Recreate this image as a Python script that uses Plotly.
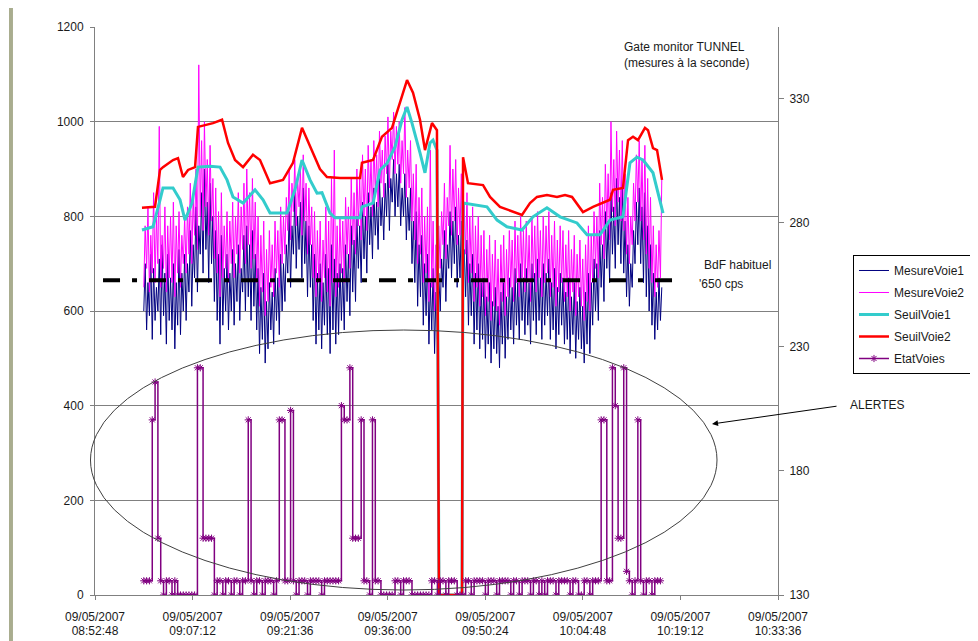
import plotly.graph_objects as go
import pandas as pd

DAY = "2007-05-09 "

# ---- x axis ticks ----
tick_times = ["08:52:48", "09:07:12", "09:21:36", "09:36:00", "09:50:24", "10:04:48", "10:19:12", "10:33:36"]
tick_date = "09/05/2007"

# ---- measurements: low / high reading for every 25 s window from 09:00:00 ----
mesure_start = "09:00:00"
mesure_step_s = 25
voie1_low = [
    600, 560, 590, 540, 580, 600, 550, 590, 530, 580,
    560, 520, 570, 550, 600, 580, 640, 610, 670, 640,
    720, 680, 730, 660, 700, 620, 580, 530, 570, 600,
    560, 600, 570, 620, 580, 640, 600, 630, 580, 610,
    560, 510, 540, 490, 520, 560, 530, 580, 550, 600,
    620, 680, 650, 720, 690, 730, 670, 700, 630, 650,
    580, 530, 560, 520, 570, 550, 510, 560, 530, 550,
    580, 560, 620, 590, 640, 620, 690, 660, 710, 680,
    740, 710, 760, 730, 780, 750, 800, 770, 830, 800,
    820, 780, 800, 750, 770, 700, 660, 610, 630, 570,
    590, 530, 560, 510, 540, 600, 650, 620, 690, 670,
    700, 650, 670, 610, 630, 570, 590, 530, 560, 520,
    540, 500, 530, 490, 520, 510, 480, 530, 500, 540,
    560, 530, 570, 540, 580, 550, 570, 530, 580, 550,
    580, 540, 570, 590, 540, 560, 520, 550, 570, 530,
    540, 510, 550, 500, 540, 520, 490, 530, 510, 570,
    600, 580, 650, 620, 690, 660, 720, 690, 740, 700,
    680, 630, 610, 650, 700, 740, 700, 660, 630, 600,
    570, 540, 560, 580,
]
voie1_high = [
    700, 660, 720, 690, 650, 710, 740, 680, 720, 670,
    700, 660, 730, 680, 720, 700, 770, 740, 820, 780,
    850, 900, 830, 870, 800, 770, 720, 760, 690, 720,
    680, 730, 700, 740, 690, 760, 780, 740, 770, 720,
    690, 650, 680, 620, 660, 640, 690, 670, 720, 700,
    740, 810, 780, 850, 800, 830, 860, 790, 780, 740,
    720, 680, 700, 660, 720, 690, 740, 710, 680, 700,
    690, 740, 720, 780, 750, 800, 780, 830, 800, 850,
    820, 860, 830, 880, 840, 870, 910, 880, 920, 890,
    910, 860, 890, 840, 860, 790, 810, 740, 760, 700,
    720, 660, 690, 640, 680, 710, 770, 740, 810, 790,
    820, 760, 790, 730, 750, 700, 720, 680, 700, 660,
    670, 630, 660, 620, 650, 610, 640, 660, 630, 670,
    650, 690, 660, 700, 670, 690, 660, 700, 680, 710,
    670, 700, 680, 710, 660, 690, 650, 680, 670, 640,
    670, 630, 660, 620, 650, 610, 640, 680, 660, 710,
    700, 770, 740, 810, 790, 850, 820, 880, 840, 860,
    790, 740, 700, 770, 830, 860, 820, 850, 780, 740,
    680, 640, 670, 650,
]
voie2_low = [
    650, 690, 640, 680, 660, 700, 650, 690, 640, 670,
    660, 630, 680, 650, 700, 680, 720, 700, 760, 730,
    800, 770, 820, 760, 790, 710, 680, 630, 670, 690,
    660, 700, 670, 720, 680, 730, 700, 740, 690, 710,
    660, 610, 640, 590, 620, 650, 630, 680, 650, 700,
    720, 770, 750, 810, 780, 820, 760, 790, 720, 740,
    670, 630, 660, 620, 670, 640, 610, 660, 630, 650,
    680, 660, 720, 690, 740, 720, 780, 750, 800, 770,
    830, 800, 850, 820, 870, 840, 890, 860, 920, 890,
    910, 870, 890, 840, 860, 790, 750, 700, 720, 660,
    680, 620, 650, 600, 640, 690, 740, 710, 780, 760,
    790, 740, 760, 700, 720, 660, 680, 620, 650, 610,
    630, 590, 620, 580, 610, 600, 570, 620, 590, 630,
    650, 620, 660, 630, 670, 640, 660, 620, 670, 640,
    670, 630, 660, 680, 630, 650, 610, 640, 660, 620,
    630, 600, 640, 590, 630, 610, 580, 620, 600, 660,
    690, 670, 740, 710, 780, 750, 810, 780, 830, 790,
    770, 720, 700, 740, 790, 830, 790, 750, 720, 690,
    660, 630, 650, 670,
]
voie2_high = [
    780, 820, 760, 850, 800, 990, 760, 820, 780, 800,
    830, 780, 810, 760, 800, 820, 870, 840, 900, 1120,
    960, 1000, 920, 950, 880, 860, 810, 850, 780, 810,
    790, 830, 800, 850, 820, 870, 900, 850, 880, 830,
    800, 760, 790, 730, 770, 740, 790, 770, 820, 800,
    840, 900, 870, 920, 880, 900, 930, 870, 860, 820,
    810, 770, 790, 750, 820, 790, 880, 940, 780, 800,
    790, 840, 820, 880, 850, 900, 880, 930, 900, 950,
    920, 960, 930, 980, 940, 970, 1010, 980, 1020, 990,
    1000, 960, 1030, 940, 960, 890, 910, 840, 860, 800,
    820, 940, 790, 740, 780, 810, 870, 840, 950, 900,
    920, 860, 890, 830, 850, 800, 820, 780, 800, 760,
    770, 730, 760, 720, 750, 710, 740, 760, 730, 770,
    750, 790, 760, 800, 770, 790, 760, 800, 780, 810,
    770, 800, 780, 810, 760, 790, 750, 780, 770, 740,
    770, 730, 760, 720, 750, 710, 740, 780, 760, 810,
    800, 870, 840, 910, 890, 1000, 920, 980, 940, 960,
    890, 840, 800, 870, 930, 960, 920, 950, 880, 840,
    780, 740, 770, 880,
]
etat_voies = [
    30, 30, 30, 370, 450, 120, 30, 0, 30, 30,
    0, 30, 0, 0, 0, 0, 0, 0, 0, 480,
    480, 120, 120, 120, 120, 0, 30, 30, 0, 30,
    30, 0, 30, 30, 0, 30, 30, 370, 30, 0,
    30, 30, 0, 30, 30, 30, 0, 30, 370, 370,
    30, 30, 390, 30, 0, 30, 30, 30, 0, 30,
    30, 30, 30, 0, 30, 30, 30, 30, 30, 30,
    400, 370, 370, 480, 120, 120, 120, 370, 30, 30,
    0, 370, 30, 30, 0, 0, 0, 0, 0, 30,
    30, 0, 30, 30, 30, 0, 0, 0, 0, 0,
    0, 0, 30, 30, 0, 30, 30, 0, 30, 30,
    30, 0, 0, 0, 30, 30, 0, 30, 30, 30,
    30, 0, 30, 30, 30, 0, 30, 30, 30, 30,
    0, 30, 30, 0, 30, 30, 30, 0, 30, 30,
    0, 30, 0, 30, 30, 30, 0, 30, 30, 30,
    30, 0, 30, 30, 0, 0, 30, 30, 0, 30,
    30, 30, 370, 370, 30, 30, 480, 400, 120, 120,
    480, 50, 30, 0, 30, 370, 30, 0, 30, 30,
    0, 30, 30, 30,
]

# ---- thresholds (read at breakpoints) ----
seuil1_t = ["08:59:44", "09:01:22", "09:02:24", "09:02:50", "09:04:19", "09:05:21", "09:06:05", "09:07:07",
            "09:08:00", "09:09:46", "09:11:15", "09:12:17", "09:13:10", "09:14:39", "09:16:25", "09:17:36",
            "09:18:38", "09:21:08", "09:22:19", "09:23:21", "09:24:32", "09:25:34", "09:26:18", "09:27:29",
            "09:28:13", "09:31:55", "09:32:12", "09:33:50", "09:34:52", "09:35:54", "09:37:05", "09:38:07",
            "09:38:51", "09:39:35", "09:40:46", "09:41:30", "09:42:14", "09:42:41", "09:43:16", "09:43:34",
            "09:46:58", "09:47:07", "09:50:39", "09:52:08", "09:53:36", "09:55:49", "09:57:26", "09:59:30",
            "10:01:26", "10:03:56", "10:05:25", "10:07:20", "10:08:48", "10:10:43", "10:11:45", "10:12:47",
            "10:13:41", "10:15:09", "10:16:38"]
seuil1_v = [771, 778, 835, 860, 860, 835, 792, 828,
            904, 906, 904, 877, 841, 828, 856, 835,
            807, 807, 856, 919, 877, 849, 850, 807,
            797, 797, 820, 828, 898, 912, 947, 1004,
            1031, 997, 934, 892, 955, 961, 940, 0,
            0, 828, 820, 792, 778, 771, 799, 818,
            799, 786, 761, 761, 792, 799, 913, 925,
            919, 892, 807]

seuil2_t = ["08:59:44", "09:01:39", "09:02:24", "09:02:50", "09:04:19", "09:05:03", "09:05:47", "09:06:32",
            "09:07:34", "09:08:00", "09:10:13", "09:11:33", "09:12:26", "09:13:28", "09:14:39", "09:16:07",
            "09:17:09", "09:18:11", "09:18:38", "09:20:33", "09:22:01", "09:23:21", "09:24:32", "09:26:00",
            "09:27:02", "09:28:58", "09:31:55", "09:32:12", "09:33:50", "09:35:09", "09:36:38", "09:37:49",
            "09:38:51", "09:39:44", "09:40:46", "09:41:30", "09:42:32", "09:43:16", "09:43:34", "09:46:58",
            "09:47:07", "09:47:51", "09:50:04", "09:51:06", "09:52:34", "09:55:49", "09:57:00", "09:58:02",
            "09:59:30", "10:00:59", "10:02:10", "10:03:12", "10:04:49", "10:06:18", "10:07:46", "10:08:48",
            "10:09:15", "10:10:43", "10:11:28", "10:12:12", "10:12:56", "10:13:58", "10:14:25", "10:15:09",
            "10:15:45", "10:16:29"]
seuil2_v = [818, 820, 898, 904, 919, 923, 883, 898,
            904, 989, 997, 1004, 955, 919, 904, 930,
            919, 883, 870, 877, 913, 987, 947, 900,
            883, 881, 881, 913, 919, 968, 987, 1039,
            1088, 1061, 1004, 940, 997, 982, 0, 0,
            925, 870, 866, 841, 820, 803, 828, 841,
            845, 841, 845, 841, 809, 820, 828, 835,
            856, 860, 961, 968, 961, 987, 982, 944,
            940, 877]

# ---- usual background level ----
bdf_level = 665
bdf_t = ["08:53:59", "10:19:35"]

NAVY = "#000080"
MAGENTA = "#ff00ff"
TURQ = "#33cccc"
RED = "#ff0000"
PURPLE = "#800080"
FONT = "Liberation Sans, Arial, sans-serif"
TXT = "#1a1a1a"

t0 = pd.Timestamp(DAY + mesure_start)
win_x = [t0 + pd.Timedelta(seconds=mesure_step_s * i) for i in range(len(voie1_low))]


def lowhigh(low, high):
    xs, ys = [], []
    for t, lo, hi in zip(win_x, low, high):
        xs += [t, t + pd.Timedelta(seconds=12)]
        ys += [lo, hi]
    return xs, ys


def ts(lst):
    return [DAY + s for s in lst]


x1, y1 = lowhigh(voie1_low, voie1_high)
x2, y2 = lowhigh(voie2_low, voie2_high)

fig = go.Figure()
fig.add_trace(go.Scatter(x=x1, y=y1, name="MesureVoie1", mode="lines",
                         line=dict(color=NAVY, width=1), legendgroup="a"))
fig.add_trace(go.Scatter(x=x2, y=y2, name="MesureVoie2", mode="lines",
                         line=dict(color=MAGENTA, width=1), legendgroup="b"))
fig.add_trace(go.Scatter(x=ts(bdf_t), y=[bdf_level] * len(bdf_t), mode="lines", showlegend=False,
                         line=dict(color="black", width=4, dash="17px,12px,5px,12px"), hoverinfo="skip"))
fig.add_trace(go.Scatter(x=ts(seuil1_t), y=seuil1_v, name="SeuilVoie1", mode="lines",
                         line=dict(color=TURQ, width=3), legendgroup="c"))
fig.add_trace(go.Scatter(x=ts(seuil2_t), y=seuil2_v, name="SeuilVoie2", mode="lines",
                         line=dict(color=RED, width=2.5), legendgroup="d"))
fig.add_trace(go.Scatter(x=win_x, y=etat_voies, name="EtatVoies", mode="lines+markers",
                         line=dict(color=PURPLE, width=1.5, shape="hv"),
                         marker=dict(symbol="asterisk-open", size=6, color=PURPLE,
                                     line=dict(color=PURPLE, width=1)),
                         legendgroup="e"))
# helper traces so the secondary axes are drawn
fig.add_trace(go.Scatter(x=[DAY + tick_times[0]], y=[None], yaxis="y2", showlegend=False, hoverinfo="skip"))
fig.add_trace(go.Scatter(x=[DAY + tick_times[0]], y=[None], xaxis="x2", showlegend=False, hoverinfo="skip"))

xrange = [DAY + tick_times[0], DAY + tick_times[-1]]
tickfont = dict(family=FONT, size=12, color=TXT)

# page body has an 8 px margin: figure is 970x633 placed at (8, 8)
fig.update_layout(
    width=970, height=633,
    margin=dict(l=87, r=200, t=19, b=46, autoexpand=False),
    paper_bgcolor="white", plot_bgcolor="white",
    font=dict(family=FONT, size=12, color=TXT),
    showlegend=True,
    legend=dict(x=1.1098, y=0.5986, xanchor="left", yanchor="top",
                bordercolor="black", borderwidth=1, bgcolor="white",
                font=dict(family=FONT, size=12, color=TXT), tracegroupgap=3),
    xaxis=dict(type="date", range=xrange, tickvals=ts(tick_times), ticktext=[tick_date] * len(tick_times),
               showgrid=False, showline=True, linecolor="#808080", linewidth=1, automargin=False,
               ticks="outside", ticklen=4, tickcolor="#808080", tickfont=tickfont, zeroline=False,
               ticklabelstandoff=7),
    xaxis2=dict(type="date", range=xrange, overlaying="x", anchor="y", side="bottom", automargin=False,
                tickvals=ts(tick_times), ticktext=tick_times, showgrid=False, showline=False,
                ticks="", tickfont=tickfont, zeroline=False, ticklabelstandoff=27),
    yaxis=dict(range=[0, 1200], tickvals=[0, 200, 400, 600, 800, 1000, 1200], automargin=False,
               showgrid=True, gridcolor="#808080", gridwidth=1, showline=True, linecolor="#808080",
               ticks="outside", ticklen=4, tickcolor="#808080", tickfont=tickfont, zeroline=False,
               ticklabelstandoff=4),
    yaxis2=dict(range=[130, 359], tickvals=[130, 180, 230, 280, 330], overlaying="y", side="right",
                showgrid=False, showline=True, linecolor="#808080", ticks="outside", ticklen=5,
                automargin=False, tickcolor="#808080", tickfont=tickfont, zeroline=False,
                ticklabelstandoff=3),
)

# decorations: ellipse around alerts
fig.add_shape(type="circle", xref="paper", yref="paper", x0=-0.0066, x1=0.9107, y0=0.0088, y1=0.4665,
              line=dict(color="#404040", width=1), layer="above")

# window frame remnant (screenshot border on the left)
fig.add_shape(type="rect", xref="paper", yref="paper", x0=-0.1259, x1=-0.1201, y0=-0.081, y1=1.0475,
              fillcolor="#a9ad8f", line=dict(width=0), layer="above")

# annotations
fig.add_annotation(xref="paper", yref="paper", x=0.7716, y=0.9806, xanchor="left", yanchor="top",
                   text="Gate monitor TUNNEL<br>(mesures à la seconde)", showarrow=False, align="left",
                   font=dict(family=FONT, size=12, color=TXT))
fig.add_annotation(xref="paper", yref="paper", x=0.8887, y=0.581, xanchor="left", yanchor="middle",
                   text="BdF habituel", showarrow=False, font=dict(family=FONT, size=12, color=TXT))
fig.add_annotation(xref="paper", yref="paper", x=0.8814, y=0.5475, xanchor="left", yanchor="middle",
                   text="'650 cps", showarrow=False, font=dict(family=FONT, size=12, color=TXT))
fig.add_annotation(xref="paper", yref="paper", x=1.1025, y=0.3345, xanchor="left", yanchor="middle",
                   text="ALERTES", showarrow=False, font=dict(family=FONT, size=12, color=TXT))
fig.add_annotation(xref="paper", yref="paper", x=0.9034, y=0.3011, text="", showarrow=True,
                   ax=126, ay=-18, arrowhead=2, arrowsize=1.2, arrowwidth=1, arrowcolor="black", standoff=0)

fig.write_html("out.html")
